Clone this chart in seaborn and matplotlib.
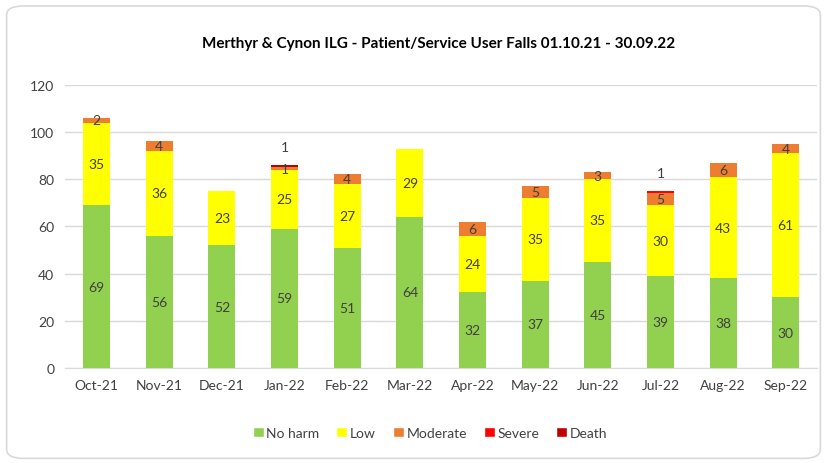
import numpy as np
import pandas as pd
import matplotlib.pyplot as plt
import seaborn as sns
from matplotlib.patches import FancyBboxPatch, Patch

# 데이터
months = ['Oct-21', 'Nov-21', 'Dec-21', 'Jan-22', 'Feb-22', 'Mar-22',
          'Apr-22', 'May-22', 'Jun-22', 'Jul-22', 'Aug-22', 'Sep-22']
no_harm = [69, 56, 52, 59, 51, 64, 32, 37, 45, 39, 38, 30]
low = [35, 36, 23, 25, 27, 29, 24, 35, 35, 30, 43, 61]
moderate = [2, 4, 0, 1, 4, 0, 6, 5, 3, 5, 6, 4]
severe = [0, 0, 0, 0, 0, 0, 0, 0, 0, 1, 0, 0]
death = [0, 0, 0, 1, 0, 0, 0, 0, 0, 0, 0, 0]

series = ['No harm', 'Low', 'Moderate', 'Severe', 'Death']
colors = ['#92D050', '#FFFF00', '#ED7D31', '#FF0000', '#C00000']

sns.set_style("white")
plt.rcParams['font.family'] = ['Lato', 'DejaVu Sans']

fig = plt.figure(figsize=(8.27, 4.64), dpi=100)
ax = fig.add_axes([0.079, 0.205, 0.909, 0.61])

# 둥근 테두리
fig.patches.append(FancyBboxPatch((0.008, 0.01), 0.984, 0.975,
                                  boxstyle="round,pad=0,rounding_size=0.02",
                                  transform=fig.transFigure, fill=False,
                                  edgecolor='#D9D9D9', linewidth=1.2))

df = pd.DataFrame({'month': months, 'No harm': no_harm, 'Low': low,
                   'Moderate': moderate, 'Severe': severe, 'Death': death})

bottom = np.zeros(len(months))
for name, col in zip(series, colors):
    vals = df[name].values
    sns.barplot(x=df['month'], y=vals, bottom=bottom, color=col, width=0.43,
                ax=ax, saturation=1, linewidth=0, edgecolor='none', zorder=3)
    for i, v in enumerate(vals):
        if v == 0:
            continue
        if name in ('Severe', 'Death'):
            ax.text(i, bottom[i] + v + 5, str(v), ha='center', va='bottom',
                    fontsize=10, color='#404040')
        else:
            ax.text(i, bottom[i] + v / 2, str(v), ha='center', va='center',
                    fontsize=10, color='#404040', zorder=4)
    bottom = bottom + vals

ax.set_ylim(0, 120)
ax.set_yticks(range(0, 121, 20))
ax.set_xlim(-0.5, len(months) - 0.5)
ax.yaxis.grid(True, color='#D9D9D9', linewidth=1, zorder=0)
ax.set_axisbelow(True)
for s in ['top', 'right', 'left']:
    ax.spines[s].set_visible(False)
ax.spines['bottom'].set_color('#D9D9D9')
ax.tick_params(axis='both', length=0, labelsize=10, labelcolor='#404040', pad=8)
ax.set_xlabel('')
ax.set_ylabel('')

fig.text(0.53, 0.905, 'Merthyr & Cynon ILG - Patient/Service User Falls 01.10.21 - 30.09.22',
         ha='center', va='center', fontsize=11, fontweight='bold', color='black')

handles = [Patch(facecolor=c, label=n) for n, c in zip(series, colors)]
fig.legend(handles=handles, loc='center', bbox_to_anchor=(0.52, 0.065), ncol=5,
           frameon=False, fontsize=10, handlelength=0.8, handleheight=0.8,
           handletextpad=0.2, columnspacing=1.2, labelcolor='#404040')

plt.savefig('out.png', dpi=100)
